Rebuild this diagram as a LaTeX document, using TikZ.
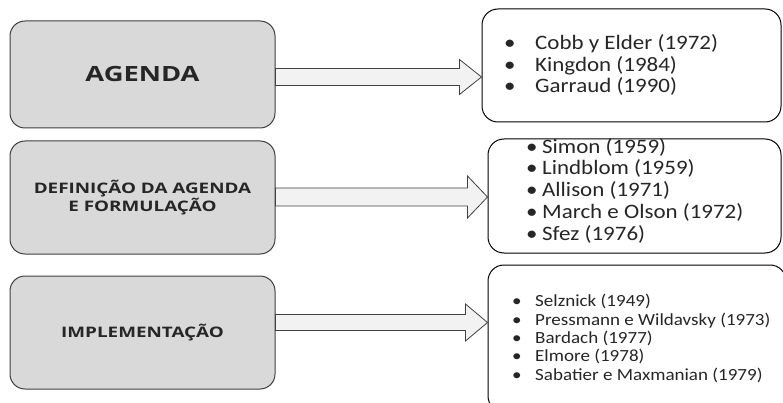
\documentclass[tikz,border=0pt]{standalone}
\usepackage{fontspec}
\setmainfont{Carlito}[FakeStretch=1.12]
\newfontfamily\headfont{Open Sans}[FakeStretch=1.3]
\usetikzlibrary{calc}

\definecolor{boxfill}{HTML}{D9D9D9}
\definecolor{boxline}{HTML}{3F3F3F}
\definecolor{arrowfill}{HTML}{F2F2F2}
\definecolor{arrowline}{HTML}{404040}
\definecolor{ink}{HTML}{262626}

% fat block arrow: #1 source node, #2 target node, #3 y of axis,
% #4 shaft half-height, #5 head half-height, #6 head length
\newcommand\blockarrow[6]{%
  \draw[fatarrow]
    ($(#1.east |- 0,#3)+(0,-#4)$) -- ($(#2.west |- 0,#3)+(-#6,-#4)$)
    -- ($(#2.west |- 0,#3)+(-#6,-#5)$) -- (#2.west |- 0,#3)
    -- ($(#2.west |- 0,#3)+(-#6,#5)$) -- ($(#2.west |- 0,#3)+(-#6,#4)$)
    -- ($(#1.east |- 0,#3)+(0,#4)$) -- cycle;}

\tikzset{
  stage/.style={draw=boxline, line width=1pt, fill=boxfill, rounded corners=15pt,
    minimum width=265pt, inner sep=0pt, text=ink, align=center,
    font=\headfont\bfseries\fontsize{14.5}{18.5}\selectfont},
  refbox/.style={draw=black, line width=1pt, fill=white, rounded corners=16pt, inner sep=0pt},
  reflist/.style={anchor=base west, inner sep=0pt, align=left, text=ink},
  fatarrow/.style={draw=arrowline, line width=0.8pt, fill=arrowfill, line join=miter},
}

\begin{document}
\begin{tikzpicture}[x=1pt, y=-1pt]
  \useasboundingbox (0,0) rectangle (783,403);
  \clip (0,0) rectangle (783,403);

  % stages on the left
  \node[stage, minimum height=107pt] (s1) at (142.5,74.5)
    {\fontsize{21}{24}\selectfont AGENDA};
  \node[stage, minimum height=113pt] (s2) at (142.5,197.5)
    {DEFINIÇÃO DA AGENDA\\E FORMULAÇÃO};
  \node[stage, minimum height=113pt] (s3) at (142.5,332.5)
    {IMPLEMENTAÇÃO};

  % reference boxes on the right
  \node[refbox, minimum width=299pt, minimum height=113pt] (r1) at (631.5,65.5) {};
  \node[refbox, minimum width=293pt, minimum height=114pt] (r2) at (634.5,196) {};
  \node[refbox, minimum width=298pt, minimum height=147pt] (r3) at (637,338.5) {};

  % reference lists (anchored at the baseline of their last line)
  \node[reflist, font=\fontsize{20.5}{21.7}\selectfont] (l1) at (504,93)
    {\makebox[31pt][l]{•}Cobb y Elder (1972)\\
     \makebox[31pt][l]{•}Kingdon (1984)\\
     \makebox[31pt][l]{•}Garraud (1990)};
  \node[reflist, font=\fontsize{20.5}{21.7}\selectfont] (l2) at (526,240)
    {\makebox[16pt][l]{•}Simon (1959)\\
     \makebox[16pt][l]{•}Lindblom (1959)\\
     \makebox[16pt][l]{•}Allison (1971)\\
     \makebox[16pt][l]{•}March e Olson (1972)\\
     \makebox[16pt][l]{•}Sfez (1976)};
  \node[reflist, font=\fontsize{17}{18.3}\selectfont] (l3) at (512,380)
    {\makebox[23pt][l]{•}Selznick (1949)\\
     \makebox[23pt][l]{•}Pressmann e Wildavsky (1973)\\
     \makebox[23pt][l]{•}Bardach (1977)\\
     \makebox[23pt][l]{•}Elmore (1978)\\
     \makebox[23pt][l]{•}Sabatier e Maxmanian (1979)};

  % connecting block arrows
  \blockarrow{s1}{r1}{77}{8.5}{17.5}{22}
  \blockarrow{s2}{r2}{197}{9}{21}{20}
  \blockarrow{s3}{r3}{322.5}{8}{18.5}{22}
\end{tikzpicture}
\end{document}
